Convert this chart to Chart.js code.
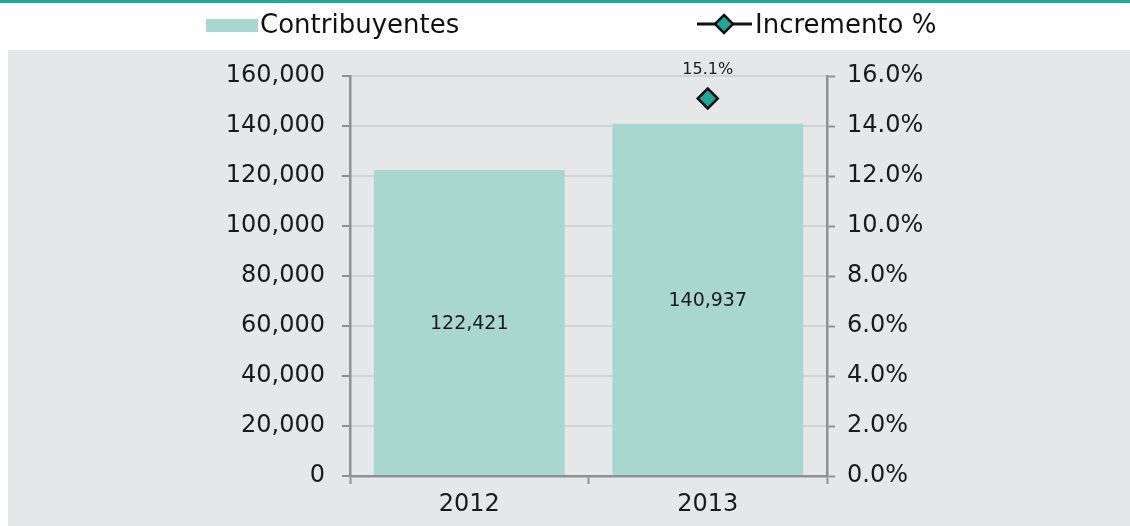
<!DOCTYPE html>
<html>
<head>
<meta charset="utf-8">
<script src="https://cdn.jsdelivr.net/npm/chart.js@4.4.1/dist/chart.umd.min.js"></script>
<style>
  html, body { margin: 0; padding: 0; background: #ffffff; }
  #wrap { width: 1130px; height: 526px; position: relative; }
</style>
</head>
<body>
<div id="wrap"><canvas id="chart1"></canvas></div>
<script>
// datos
const years = ['2012', '2013'];
const contribuyentes = [122421, 140937];
const incremento = [null, 15.1];
const leftTicks = [0, 20000, 40000, 60000, 80000, 100000, 120000, 140000, 160000];

const FONT = "'DejaVu Sans', sans-serif";
const barColor = '#aad6d0';
const diamondColor = '#20a79b';
const axisGray = '#8f9091';

function fmtNum(v) {
    return v.toLocaleString('en-US');
}

// fondo gris + linea superior
const backgroundPlugin = {
    id: 'fondo',
    beforeDraw(chart) {
        const ctx = chart.ctx;
        ctx.save();
        ctx.fillStyle = '#ffffff';
        ctx.fillRect(0, 0, chart.width, chart.height);
        ctx.fillStyle = '#e6e7e9';
        ctx.fillRect(8, 50, chart.width - 8, chart.height - 50);
        ctx.fillStyle = '#1fa999';
        ctx.fillRect(0, 0, chart.width, 3);
        ctx.restore();
    }
};

// leyenda dibujada a mano (dos items separados)
const leyendaPlugin = {
    id: 'leyenda',
    afterDraw(chart) {
        const ctx = chart.ctx;
        const ds = chart.data.datasets;
        ctx.save();
        ctx.font = '26px ' + FONT;
        ctx.textBaseline = 'middle';
        // barras
        ctx.fillStyle = ds[0].backgroundColor;
        ctx.fillRect(206, 19, 52, 13);
        ctx.fillStyle = '#111111';
        ctx.fillText(ds[0].label, 260, 26);
        // linea con rombo
        ctx.strokeStyle = '#111111';
        ctx.lineWidth = 3;
        ctx.beginPath();
        ctx.moveTo(697, 24);
        ctx.lineTo(752, 24);
        ctx.stroke();
        ctx.beginPath();
        ctx.moveTo(724, 15);
        ctx.lineTo(733, 24);
        ctx.lineTo(724, 33);
        ctx.lineTo(715, 24);
        ctx.closePath();
        ctx.fillStyle = diamondColor;
        ctx.fill();
        ctx.lineWidth = 2.5;
        ctx.stroke();
        ctx.fillStyle = '#111111';
        ctx.fillText(ds[1].label, 755, 26);
        ctx.restore();
    }
};

// etiquetas de valores
const etiquetasPlugin = {
    id: 'etiquetas',
    afterDatasetsDraw(chart) {
        const ctx = chart.ctx;
        ctx.save();
        ctx.fillStyle = '#1a1a1a';
        ctx.textAlign = 'center';
        ctx.textBaseline = 'middle';
        const barMeta = chart.getDatasetMeta(0);
        ctx.font = '19px ' + FONT;
        barMeta.data.forEach((bar, i) => {
            ctx.fillText(fmtNum(contribuyentes[i]), bar.x, (bar.y + bar.base) / 2 + 2);
        });
        const lineMeta = chart.getDatasetMeta(1);
        ctx.font = '16px ' + FONT;
        lineMeta.data.forEach((pt, i) => {
            if (incremento[i] == null) return;
            ctx.fillText(incremento[i].toFixed(1) + '%', pt.x, pt.y - 29);
        });
        ctx.restore();
    }
};

const ctx = document.getElementById('chart1').getContext('2d');
const chart = new Chart(ctx, {
    type: 'bar',
    data: {
        labels: years,
        datasets: [
            {
                type: 'bar',
                label: 'Contribuyentes',
                data: contribuyentes,
                backgroundColor: barColor,
                borderWidth: 0,
                barPercentage: 0.8,
                categoryPercentage: 1.0,
                yAxisID: 'y',
                order: 2
            },
            {
                type: 'line',
                label: 'Incremento %',
                data: incremento,
                borderColor: '#111111',
                backgroundColor: diamondColor,
                pointStyle: 'rectRot',
                pointRadius: 10,
                pointBorderWidth: 2.5,
                pointBorderColor: '#111111',
                pointBackgroundColor: diamondColor,
                showLine: false,
                yAxisID: 'y1',
                order: 1
            }
        ]
    },
    options: {
        responsive: true,
        maintainAspectRatio: false,
        animation: false,
        layout: { padding: { top: 76, left: 0, right: 0, bottom: 0 } },
        plugins: {
            legend: { display: false },
            tooltip: { enabled: false }
        },
        scales: {
            x: {
                offset: true,
                grid: {
                    display: true,
                    offset: true,
                    drawOnChartArea: false,
                    drawTicks: true,
                    tickLength: 8,
                    tickColor: axisGray,
                    tickWidth: 2
                },
                border: { color: axisGray, width: 2.5 },
                ticks: {
                    color: '#1a1a1a',
                    font: { family: FONT, size: 24 },
                    padding: 6
                },
                afterFit(scale) { scale.height = 50; }
            },
            y: {
                position: 'left',
                min: 0,
                max: 160000,
                afterBuildTicks(scale) {
                    scale.ticks = leftTicks.map(v => ({ value: v }));
                },
                grid: {
                    color: '#d2d3d4',
                    lineWidth: 2,
                    drawTicks: true,
                    tickLength: 8,
                    tickColor: axisGray,
                    tickWidth: 2
                },
                border: { color: axisGray, width: 2.5 },
                ticks: {
                    color: '#1a1a1a',
                    font: { family: FONT, size: 24 },
                    padding: 17,
                    callback: v => fmtNum(v)
                },
                afterFit(scale) { scale.width = 350; }
            },
            y1: {
                position: 'right',
                min: 0,
                max: 16,
                grid: {
                    drawOnChartArea: false,
                    drawTicks: true,
                    tickLength: 8,
                    tickColor: axisGray,
                    tickWidth: 2
                },
                border: { color: axisGray, width: 2.5 },
                ticks: {
                    stepSize: 2,
                    color: '#1a1a1a',
                    font: { family: FONT, size: 24 },
                    padding: 12,
                    callback: v => v.toFixed(1) + '%'
                },
                afterFit(scale) { scale.width = 303; }
            }
        }
    },
    plugins: [backgroundPlugin, leyendaPlugin, etiquetasPlugin]
});
</script>
</body>
</html>
